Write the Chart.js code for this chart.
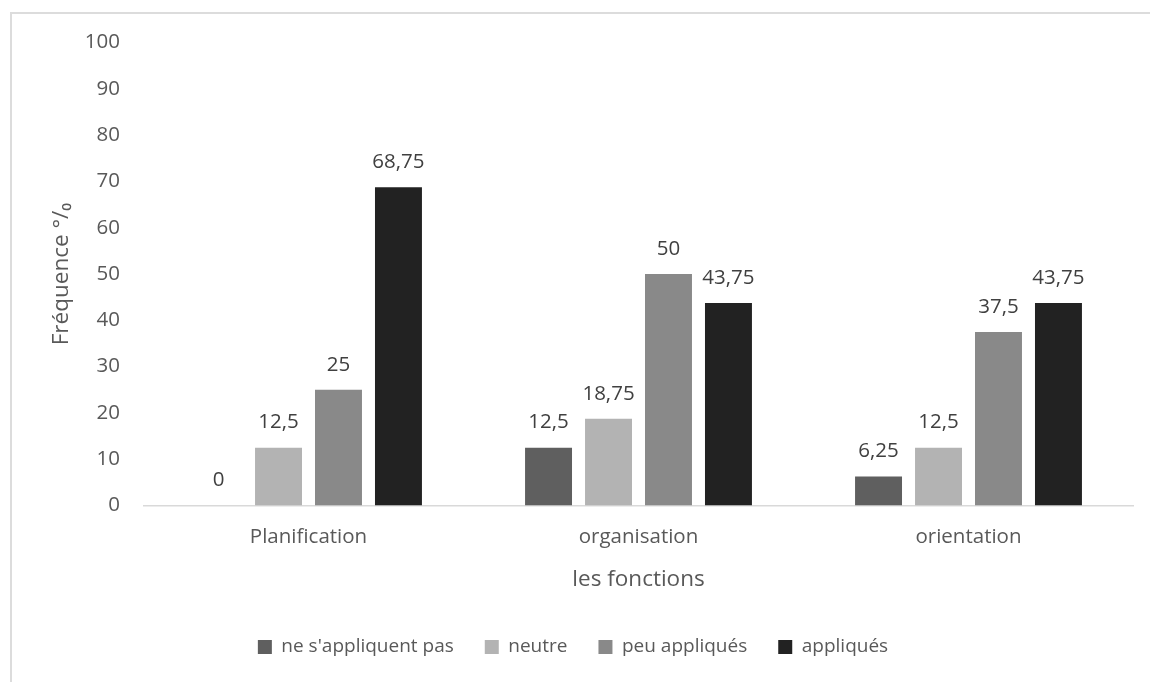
<!DOCTYPE html>
<html>
<head>
<meta charset="utf-8">
<script src="https://cdn.jsdelivr.net/npm/chart.js@4/dist/chart.umd.min.js"></script>
<style>
    html, body { margin: 0; padding: 0; background: #fff; overflow: hidden; }
    #frame {
        position: absolute; left: 10px; top: 12px;
        width: 1300px; height: 800px;
        border-left: 2px solid #dcdcdc; border-top: 2px solid #dcdcdc;
    }
    #wrap { position: absolute; left: 0; top: 0; width: 1150px; height: 682px; }
</style>
</head>
<body>
<div id="frame"></div>
<div id="wrap"><canvas id="chart"></canvas></div>
<script>
// Fréquences (%) par fonction de gestion
const fonctions = ['Planification', 'organisation', 'orientation'];
const neSappliquentPas = [0, 12.5, 6.25];
const neutre = [12.5, 18.75, 12.5];
const peuAppliques = [25, 50, 37.5];
const appliques = [68.75, 43.75, 43.75];
const yTicks = { min: 0, max: 100, step: 10 };

const TEXT = '#595959';
const FONT = "'Open Sans', sans-serif";

// étiquettes de valeur au-dessus des barres (virgule décimale)
const valueLabels = {
    id: 'valueLabels',
    afterDatasetsDraw(chart) {
        const ctx = chart.ctx;
        ctx.save();
        ctx.font = `20.5px ${FONT}`;
        ctx.fillStyle = '#404040';
        ctx.textAlign = 'center';
        ctx.textBaseline = 'middle';
        chart.data.datasets.forEach((ds, i) => {
            const meta = chart.getDatasetMeta(i);
            meta.data.forEach((bar, j) => {
                const txt = String(ds.data[j]).replace('.', ',');
                ctx.fillText(txt, bar.x, bar.y - 25);
            });
        });
        ctx.restore();
    }
};

new Chart(document.getElementById('chart'), {
    type: 'bar',
    data: {
        labels: fonctions,
        datasets: [
            { label: "ne s'appliquent pas", data: neSappliquentPas, backgroundColor: '#5f5f5f' },
            { label: 'neutre', data: neutre, backgroundColor: '#b3b3b3' },
            { label: 'peu appliqués', data: peuAppliques, backgroundColor: '#898989' },
            { label: 'appliqués', data: appliques, backgroundColor: '#222222' }
        ]
    },
    options: {
        responsive: true,
        maintainAspectRatio: false,
        animation: false,
        categoryPercentage: 0.727,
        barPercentage: 0.783,
        borderWidth: 0,
        // marges gauche/droite choisies pour centrer la légende sur la largeur totale
        layout: { padding: { left: 12.5, top: 42.6, right: 16.5, bottom: 15.5 } },
        plugins: {
            tooltip: { enabled: false },
            legend: {
                position: 'bottom',
                labels: {
                    color: TEXT,
                    font: { family: FONT, size: 19 },
                    boxWidth: 14,
                    boxHeight: 14,
                    padding: 31
                }
            }
        },
        scales: {
            x: {
                grid: { display: false, drawTicks: false },
                border: { display: true, color: '#d9d9d9', width: 1.5 },
                ticks: { color: TEXT, font: { family: FONT, size: 20.5 }, padding: 19 },
                title: {
                    display: true, text: 'les fonctions', color: TEXT,
                    font: { family: FONT, size: 22.5 },
                    padding: { top: 4, bottom: 13 }
                },
                afterFit(scale) { scale.height = 101; }
            },
            y: {
                min: yTicks.min,
                max: yTicks.max,
                grid: { display: false, drawTicks: false },
                border: { display: false },
                ticks: { stepSize: yTicks.step, color: TEXT, font: { family: FONT, size: 20.5 }, padding: 23.5 },
                title: {
                    display: true, text: 'Fréquence °/₀', color: TEXT,
                    font: { family: FONT, size: 22.5 },
                    padding: { top: 35.3, bottom: 4 }
                },
                afterFit(scale) { scale.width = 131; }
            }
        }
    },
    plugins: [valueLabels]
});
</script>
</body>
</html>
